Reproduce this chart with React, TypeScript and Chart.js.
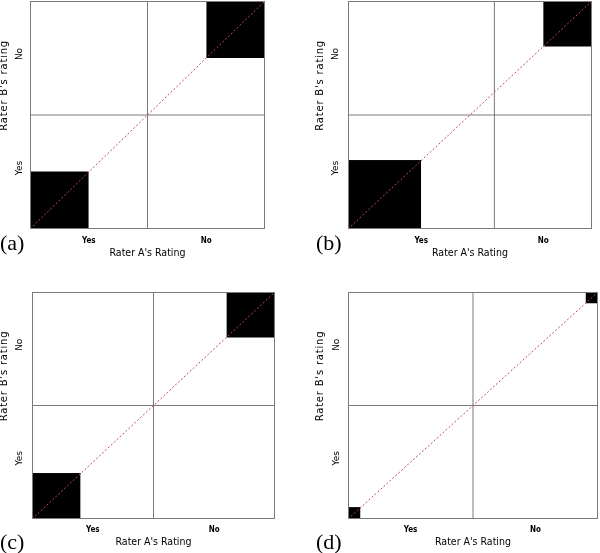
import React, { useEffect, useRef } from 'react';
import { Chart, registerables } from 'chart.js';

Chart.register(...registerables);

// ---- data (percent of all subjects) ----
const panelLabels = ['(a)', '(b)', '(c)', '(d)'];
const categories = ['Yes', 'No'];
const agreeYes = [25, 30, 20, 5]; // both raters "Yes"
const agreeNo = [25, 20, 20, 5]; // both raters "No"
const raterAYes = [50, 60, 50, 50]; // rater A marginal "Yes"
const raterBYes = [50, 50, 50, 50]; // rater B marginal "Yes"
const xAxisTitle = "Rater A's Rating";
const yAxisTitle = "Rater B's rating";

// ---- layout / style ----
const GRID = '#7a7a7a';
const DIAG = '#c04a5c';
const NARROW = "'Liberation Sans Narrow', 'DejaVu Sans Condensed', 'Arial Narrow', sans-serif";
const WIDE = "'DejaVu Sans', Verdana, sans-serif";

type Layout = {
  left: number; top: number; w: number; h: number;
  area: { l: number; r: number; t: number; b: number };
  xTickPad: number; xTitlePad: number; yTickPad: number; yTitleX: number;
  labelLeft: number; labelTop: number;
};

const layouts: Layout[] = [
  { left: 0, top: 0, w: 300, h: 268, area: { l: 30, r: 265, t: 1, b: 229 }, xTickPad: 7, xTitlePad: 8.2, yTickPad: 2.6, yTitleX: 4, labelLeft: 0, labelTop: 232 },
  { left: 300, top: 0, w: 300, h: 268, area: { l: 48, r: 292, t: 1, b: 229 }, xTickPad: 7, xTitlePad: 8.2, yTickPad: 4.6, yTitleX: 20.5, labelLeft: 316, labelTop: 232 },
  { left: 0, top: 270, w: 300, h: 283, area: { l: 32, r: 275, t: 22, b: 249 }, xTickPad: 6, xTitlePad: 4.4, yTickPad: 4.6, yTitleX: 4.5, labelLeft: 0, labelTop: 531 },
  { left: 300, top: 270, w: 300, h: 283, area: { l: 48, r: 298, t: 22, b: 249 }, xTickPad: 6, xTitlePad: 4.4, yTickPad: 3.6, yTitleX: 20.5, labelLeft: 316, labelTop: 531 },
];

const framePlugin = {
  id: 'frame',
  afterDatasetsDraw(chart: any) {
    const { ctx, chartArea } = chart;
    const { left, top, right, bottom } = chartArea;
    ctx.save();
    ctx.strokeStyle = GRID;
    ctx.lineWidth = 1;
    ctx.strokeRect(left + 0.5, top + 0.5, right - left - 1, bottom - top - 1);
    ctx.restore();
  },
};

const yTitlePlugin = {
  id: 'yTitle',
  afterDraw(chart: any, _args: any, opts: any) {
    const { ctx, chartArea } = chart;
    ctx.save();
    ctx.translate(opts.x, chartArea.top + opts.frac * (chartArea.bottom - chartArea.top));
    ctx.rotate(-Math.PI / 2);
    ctx.font = `10px ${WIDE}`;
    try { (ctx as any).letterSpacing = '0.8px'; } catch (e) { /* ignore */ }
    ctx.fillStyle = '#000';
    ctx.textAlign = 'center';
    ctx.textBaseline = 'middle';
    ctx.fillText(opts.text, 0, 0);
    ctx.restore();
  },
};

function Panel({ index }: { index: number }) {
  const ref = useRef<HTMLCanvasElement | null>(null);
  const L = layouts[index];

  useEffect(() => {
    if (!ref.current) return;
    const aY = agreeYes[index];
    const aN = agreeNo[index];
    const mA = raterAYes[index];
    const mB = raterBYes[index];
    const line = { pointRadius: 0, pointHoverRadius: 0, borderWidth: 1, tension: 0 };

    const chart = new Chart(ref.current, {
      type: 'line',
      data: {
        datasets: [
          { label: 'Perfect agreement', data: [{ x: 0, y: 0 }, { x: 100, y: 100 }], borderColor: DIAG, borderDash: [2, 2], fill: false, order: 0, ...line },
          { label: "Rater A split", data: [{ x: mA, y: 0 }, { x: mA, y: 100 }], borderColor: GRID, fill: false, order: 1, ...line },
          { label: "Rater B split", data: [{ x: 0, y: mB }, { x: 100, y: mB }], borderColor: GRID, fill: false, order: 1, ...line },
          { label: 'Agree Yes', data: [{ x: 0, y: aY }, { x: aY, y: aY }], borderColor: '#000', backgroundColor: '#000', fill: 'origin', order: 2, ...line },
          { label: 'Agree No', data: [{ x: 100 - aN, y: 100 }, { x: 100, y: 100 }], borderColor: '#000', backgroundColor: '#000', fill: { value: 100 - aN }, order: 2, ...line },
        ],
      },
      options: {
        animation: false,
        responsive: false,
        devicePixelRatio: 1,
        events: [],
        layout: { padding: { left: 0, top: L.area.t, right: L.w - L.area.r, bottom: 0 } },
        plugins: {
          legend: { display: false },
          tooltip: { enabled: false },
          yTitle: { text: yAxisTitle, x: L.yTitleX, frac: 0.37 },
        } as any,
        scales: {
          x: {
            type: 'linear',
            min: 0,
            max: 100,
            grid: { display: false, drawTicks: false },
            border: { display: false },
            afterBuildTicks: (s: any) => {
              s.ticks = [{ value: mA / 2 }, { value: mA + (100 - mA) / 2 }];
            },
            ticks: {
              autoSkip: false,
              maxRotation: 0,
              padding: L.xTickPad,
              color: '#000',
              font: { family: NARROW, size: 8, weight: 'bold' },
              callback: (_v: any, i: number) => categories[i],
            },
            title: {
              display: true,
              text: xAxisTitle,
              color: '#000',
              font: { family: NARROW, size: 10.5 },
              padding: { top: 0, bottom: L.xTitlePad },
            },
            afterFit: (s: any) => {
              s.height = L.h - L.area.b;
              s.paddingLeft = 0;
              s.paddingRight = 0;
            },
          },
          y: {
            type: 'linear',
            min: 0,
            max: 100,
            grid: { display: false, drawTicks: false },
            border: { display: false },
            afterBuildTicks: (s: any) => {
              s.ticks = [{ value: mB / 2 }, { value: mB + (100 - mB) / 2 }];
            },
            ticks: {
              autoSkip: false,
              minRotation: 90,
              maxRotation: 90,
              crossAlign: 'center',
              labelOffset: -4,
              padding: L.yTickPad,
              color: '#000',
              font: { family: WIDE, size: 9 },
              callback: (_v: any, i: number) => categories[i],
            },
            afterFit: (s: any) => {
              s.width = L.area.l;
              s.paddingTop = 0;
              s.paddingBottom = 0;
            },
          },
        } as any,
      },
      plugins: [framePlugin, yTitlePlugin],
    } as any);
    return () => chart.destroy();
  }, [index]);

  return (
    <>
      <canvas
        ref={ref}
        width={L.w}
        height={L.h}
        style={{ position: 'absolute', left: L.left, top: L.top, width: L.w, height: L.h }}
      />
      <div
        style={{
          position: 'absolute',
          left: L.labelLeft,
          top: L.labelTop,
          fontFamily: "'Liberation Serif', 'DejaVu Serif', serif",
          fontSize: 22,
          lineHeight: '22px',
          color: '#000',
        }}
      >
        {panelLabels[index]}
      </div>
    </>
  );
}

export default function App() {
  return (
    <div style={{ position: 'absolute', left: 0, top: 0, width: 600, height: 553, background: '#fff', overflow: 'hidden' }}>
      {panelLabels.map((_, i) => (
        <Panel key={i} index={i} />
      ))}
    </div>
  );
}
